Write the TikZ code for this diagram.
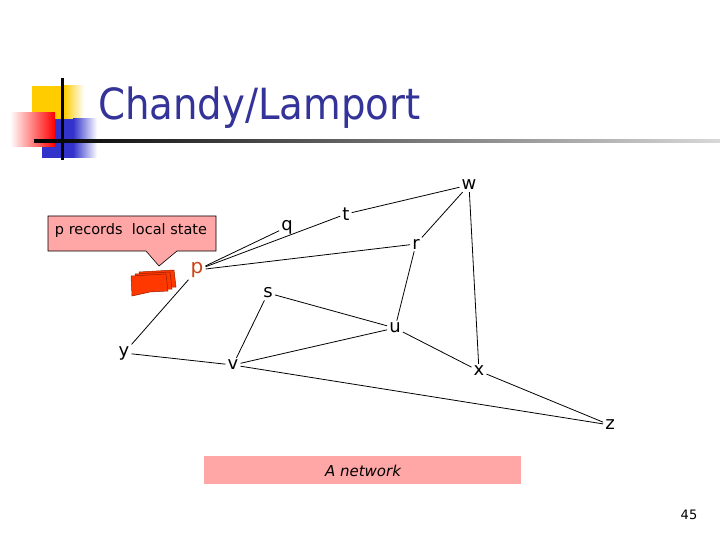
\documentclass[tikz,border=0pt]{standalone}
\usepackage{fontspec}
\setmainfont{DejaVu Sans}
\newfontfamily\titlefont{DejaVu Sans Condensed}
\usetikzlibrary{positioning}
\definecolor{titleblue}{RGB}{51,51,153}
\definecolor{pinkfill}{RGB}{255,166,166}
\definecolor{porange}{RGB}{204,68,20}
\definecolor{sheetred}{RGB}{255,56,0}
\definecolor{sheetedge}{RGB}{150,30,0}
\definecolor{logoyellow}{RGB}{255,204,0}
\definecolor{logoblue}{RGB}{51,51,204}
\tikzset{
	lbl/.style={inner sep=2pt, font=\fontsize{18}{20}\selectfont},
	link/.style={black, line width=0.8pt},
	sheet/.style={fill=sheetred, draw=sheetedge, line width=0.5pt}
}
\begin{document}
\begin{tikzpicture}[x=1pt, y=-1pt]
	\useasboundingbox (0,0) rectangle (720,540);
	% logo
	\fill[logoyellow] (32,86) rectangle (64,120);
	\shade[left color=logoyellow, right color=white] (64,86) rectangle (84,120);
	\fill[logoblue] (42,119) rectangle (73,158);
	\shade[left color=logoblue, right color=white] (73,119) rectangle (97,158);
	\shade[left color=white, right color=red] (10,113) rectangle (55,147);
	\fill[black] (61,78) rectangle (63.5,160);
	\shade[left color=black, right color=black!15] (34,140) rectangle (720,142.5);
	\node[anchor=base west, inner sep=0pt, text=titleblue, font=\titlefont\fontsize{43}{50}\selectfont] (title) at (98,120) {Chandy/Lamport};
	% callout
	\draw[fill=pinkfill, line width=0.6pt] (48,216) -- (216,216) -- (216,251) -- (177,251) -- (159,266) -- (146,251) -- (48,251) -- cycle;
	\node[inner sep=0pt, font=\fontsize{14.5}{16}\selectfont] (note) at (131,231) {p records\ \ local state};
	% local state icon
	\foreach \d in {8,4,0} {
		\draw[sheet, shift={(\d,-\d/2)}] (131,276) -- (166,274) -- (168,291) -- (150,292) -- (132,296) -- cycle;
	}
	% processes
	\node[lbl, text=porange, font=\fontsize{20}{22}\selectfont] (p) at (197,270) {p};
	\node[lbl] (q) at (287,227) {q};
	\node[lbl] (t) at (346,214) {t};
	\node[lbl] (w) at (469,185) {w};
	\node[lbl] (r) at (416,244) {r};
	\node[lbl] (s) at (268,293) {s};
	\node[lbl] (u) at (395,328) {u};
	\node[lbl] (y) at (124,353) {y};
	\node[lbl] (v) at (233,365) {v};
	\node[lbl] (x) at (479,371) {x};
	\node[lbl] (z) at (610,425) {z};
	\foreach \a/\b in {p/q,p/t,p/r,p/y,t/w,w/r,w/x,r/u,s/u,s/v,y/v,v/u,v/z,u/x,x/z} {
		\draw[link] (\a) -- (\b);
	}
	% caption
	\fill[pinkfill] (204,456) rectangle (521,484);
	\node[inner sep=0pt, font=\itshape\fontsize{15}{17}\selectfont] (caption) at (363,471) {A network};
	\node[inner sep=0pt, font=\fontsize{13}{15}\selectfont] (page) at (689,515) {45};
\end{tikzpicture}
\end{document}
